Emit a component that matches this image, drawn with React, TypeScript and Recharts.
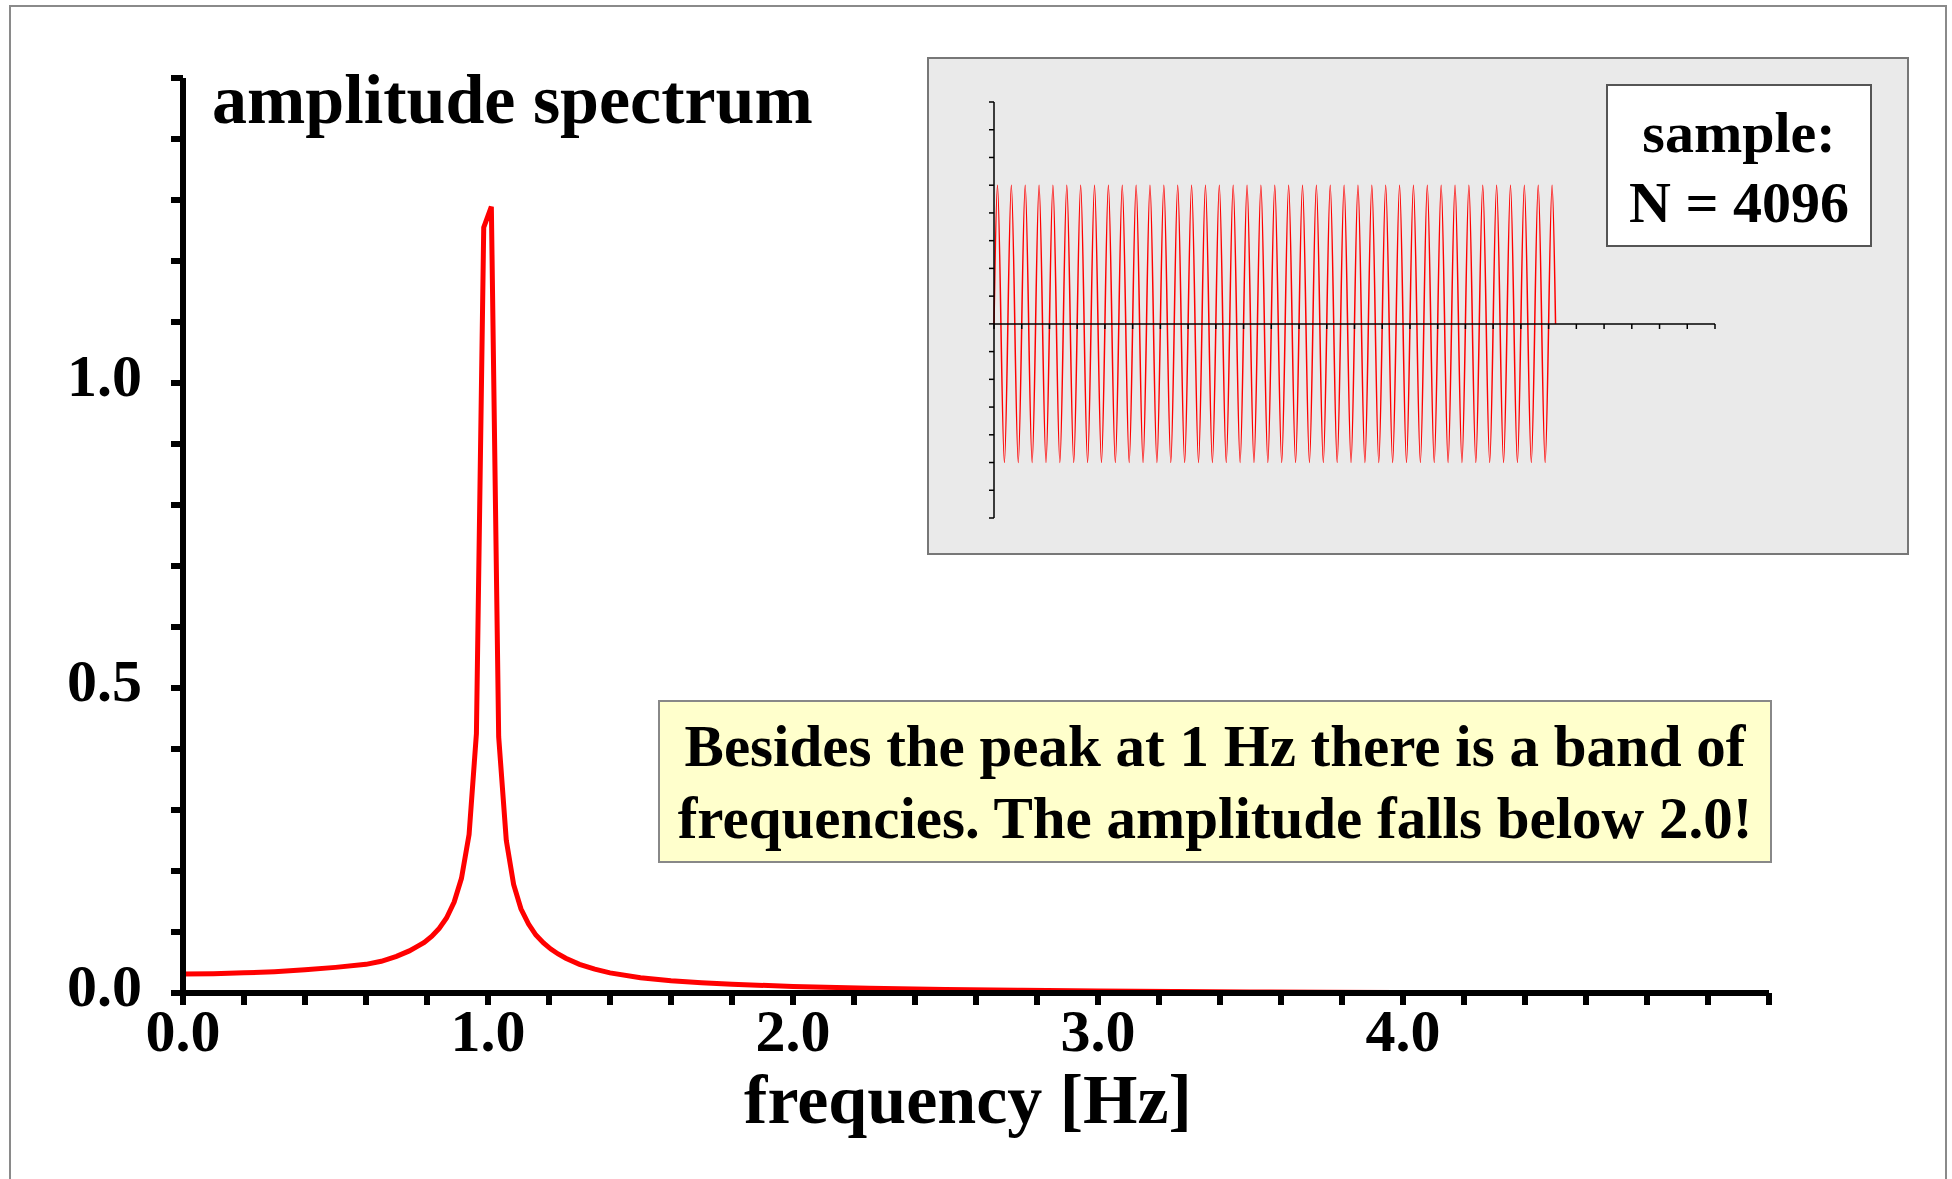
import React from 'react'
import { Line, LineChart, XAxis, YAxis } from 'recharts'

// amplitude spectrum (frequency in Hz)
const specFreq = [
  0, 0.1, 0.2, 0.3, 0.4, 0.5, 0.6, 0.65, 0.7,
  0.742, 0.767, 0.791, 0.816, 0.84, 0.864, 0.889, 0.913, 0.938, 0.962, 0.986,
  1.011, 1.035, 1.06, 1.084, 1.108, 1.133, 1.157, 1.182, 1.206, 1.23, 1.255,
  1.3, 1.35, 1.4, 1.5, 1.6, 1.7, 1.8, 2.0,
  2.25, 2.5, 2.75, 3.0, 3.25, 3.5, 3.75, 3.98,
]
const specAmp = [
  0.031, 0.0315, 0.033, 0.035, 0.038, 0.042, 0.047, 0.052, 0.06,
  0.069, 0.076, 0.083, 0.093, 0.106, 0.123, 0.149, 0.188, 0.26, 0.425, 1.255,
  1.289, 0.42, 0.25, 0.178, 0.138, 0.113, 0.095, 0.082, 0.072, 0.064, 0.057,
  0.047, 0.039, 0.033, 0.025, 0.02, 0.017, 0.0145, 0.0105,
  0.0078, 0.0058, 0.0045, 0.0034, 0.0025, 0.0018, 0.0012, 0.0008,
]

const xTicks = [0, 0.2, 0.4, 0.6, 0.8, 1, 1.2, 1.4, 1.6, 1.8, 2, 2.2, 2.4, 2.6, 2.8, 3, 3.2, 3.4, 3.6, 3.8, 4, 4.2, 4.4, 4.6, 4.8, 5, 5.2]
const xLabelValues = [0, 1, 2, 3, 4]
const yTicks = [0, 0.1, 0.2, 0.3, 0.4, 0.5, 0.6, 0.7, 0.8, 0.9, 1, 1.1, 1.2, 1.3, 1.4, 1.5]
const yLabelValues = [0, 0.5, 1]

// inset: sampled signal, one value every quarter period
const SIG_STEP = 0.25
const sigValues = [
  0, 1, 0, -1, 0, 1, 0, -1, 0, 1, 0, -1, 0, 1, 0, -1,
  0, 1, 0, -1, 0, 1, 0, -1, 0, 1, 0, -1, 0, 1, 0, -1,
  0, 1, 0, -1, 0, 1, 0, -1, 0, 1, 0, -1, 0, 1, 0, -1,
  0, 1, 0, -1, 0, 1, 0, -1, 0, 1, 0, -1, 0, 1, 0, -1,
  0, 1, 0, -1, 0, 1, 0, -1, 0, 1, 0, -1, 0, 1, 0, -1,
  0, 1, 0, -1, 0, 1, 0, -1, 0, 1, 0, -1, 0, 1, 0, -1,
  0, 1, 0, -1, 0, 1, 0, -1, 0, 1, 0, -1, 0, 1, 0, -1,
  0, 1, 0, -1, 0, 1, 0, -1, 0, 1, 0, -1, 0, 1, 0, -1,
  0, 1, 0, -1, 0, 1, 0, -1, 0, 1, 0, -1, 0, 1, 0, -1,
  0, 1, 0, -1, 0, 1, 0, -1, 0, 1, 0, -1, 0, 1, 0, -1,
  0, 1, 0,
]
const insetXTicks = [0, 2, 4, 6, 8, 10, 12, 14, 16, 18, 20, 22, 24, 26, 28, 30, 32, 34, 36, 38, 40, 42, 44, 46, 48, 50, 52]
const insetYTicks = [-1.4, -1.2, -1, -0.8, -0.6, -0.4, -0.2, 0, 0.2, 0.4, 0.6, 0.8, 1, 1.2, 1.4, 1.6]

const spectrum = specFreq.map((f, i) => ({ f, a: specAmp[i] }))
const signal = sigValues.map((v, i) => ({ t: i * SIG_STEP, v }))

const serif = "'Liberation Serif', 'Times New Roman', serif"
const bold = { fontFamily: serif, fontWeight: 700, fill: '#000' }
const AXIS_W = 6
const thick = { stroke: '#000', strokeWidth: AXIS_W }
const thin = { stroke: '#000', strokeWidth: 1.5 }
const TICK = 12

// tick mark and label drawn together so the mark keeps its weight
const renderXTick = ({ x, y, payload }: any) => (
  <g>
    <line x1={x} x2={x} y1={y - TICK} y2={y} stroke="#000" strokeWidth={AXIS_W} />
    {xLabelValues.includes(payload.value) && (
      <text x={x} y={y + 46} textAnchor="middle" style={{ ...bold, fontSize: 60 }}>
        {payload.value.toFixed(1)}
      </text>
    )}
  </g>
)

const renderYTick = ({ x, y, payload }: any) => (
  <g>
    <line x1={x} x2={x + TICK} y1={y} y2={y} stroke="#000" strokeWidth={AXIS_W} />
    {yLabelValues.includes(payload.value) && (
      <text x={x - 29} y={y + 13} textAnchor="end" style={{ ...bold, fontSize: 60 }}>
        {payload.value.toFixed(1)}
      </text>
    )}
  </g>
)

const noTick = () => <g />

const abs = (left: number, top: number): React.CSSProperties => ({ position: 'absolute', left, top })

export default function App() {
  return (
    <div style={{ position: 'absolute', left: 0, top: 0, width: 1952, height: 1179, overflow: 'hidden', background: '#fff' }}>
      <div style={{ ...abs(9, 5), width: 1938, height: 1200, border: '2px solid #8a8a8a', boxSizing: 'border-box' }} />

      <div style={abs(0, 0)}>
        <LineChart width={1952} height={1179} data={spectrum} margin={{ top: 78, right: 183, bottom: 126, left: 83 }}>
          <XAxis
            dataKey="f"
            type="number"
            domain={[0, 5.2]}
            ticks={xTicks}
            interval={0}
            allowDataOverflow
            height={60}
            tickSize={TICK}
            tickMargin={0}
            stroke="#000"
            axisLine={thick}
            tickLine={false}
            tick={renderXTick}
          />
          <YAxis
            type="number"
            domain={[0, 1.5]}
            ticks={yTicks}
            interval={0}
            allowDataOverflow
            width={100}
            tickSize={TICK}
            tickMargin={0}
            stroke="#000"
            axisLine={thick}
            tickLine={false}
            tick={renderYTick}
          />
          <Line dataKey="a" type="linear" stroke="#ff0000" strokeWidth={5} dot={false} isAnimationActive={false} />
        </LineChart>
      </div>

      {/* inset with the sampled signal */}
      <div style={{ ...abs(927, 57), width: 982, height: 498, background: '#eaeaea', border: '2px solid #777', boxSizing: 'border-box' }} />
      <div style={abs(927, 57)}>
        <LineChart width={982} height={498} data={signal} margin={{ top: 45, right: 194, bottom: 37, left: 57 }}>
          <XAxis dataKey="t" type="number" domain={[0, 52]} hide />
          <YAxis
            type="number"
            domain={[-1.4, 1.6]}
            ticks={insetYTicks}
            interval={0}
            width={10}
            tickSize={5}
            stroke="#000"
            axisLine={thin}
            tickLine={thin}
            tick={noTick}
          />
          <Line dataKey="v" type="natural" stroke="#ff0000" strokeWidth={1.5} dot={false} isAnimationActive={false} />
        </LineChart>
      </div>
      <div style={abs(927, 57)}>
        <LineChart width={982} height={277} data={signal} margin={{ top: 45, right: 194, bottom: 0, left: 67 }}>
          <XAxis
            dataKey="t"
            type="number"
            domain={[0, 52]}
            ticks={insetXTicks}
            interval={0}
            height={10}
            tickSize={5}
            stroke="#000"
            axisLine={thin}
            tickLine={thin}
            tick={noTick}
          />
          <YAxis type="number" domain={[-1.4, 1.6]} hide />
          <Line dataKey="v" stroke="transparent" dot={false} isAnimationActive={false} />
        </LineChart>
      </div>

      <div style={{ ...abs(1606, 84), width: 266, height: 163, background: '#fff', border: '2px solid #555', boxSizing: 'border-box' }} />
      <div style={{ ...abs(658, 700), width: 1114, height: 163, background: '#ffffcc', border: '2px solid #888', boxSizing: 'border-box' }} />

      <svg width={1952} height={1179} style={{ ...abs(0, 0), pointerEvents: 'none' }}>
        <text x={212} y={123} style={{ ...bold, fontSize: 70 }}>amplitude spectrum</text>
        <text x={968} y={1123} textAnchor="middle" style={{ ...bold, fontSize: 70 }}>frequency [Hz]</text>
        <text x={1739} y={152} textAnchor="middle" style={{ ...bold, fontSize: 58 }}>sample:</text>
        <text x={1739} y={222} textAnchor="middle" style={{ ...bold, fontSize: 58 }}>N = 4096</text>
        <text x={1215} y={766} textAnchor="middle" style={{ ...bold, fontSize: 59 }}>Besides the peak at 1 Hz there is a band of</text>
        <text x={1215} y={838} textAnchor="middle" style={{ ...bold, fontSize: 59 }}>frequencies. The amplitude falls below 2.0!</text>
      </svg>
    </div>
  )
}
